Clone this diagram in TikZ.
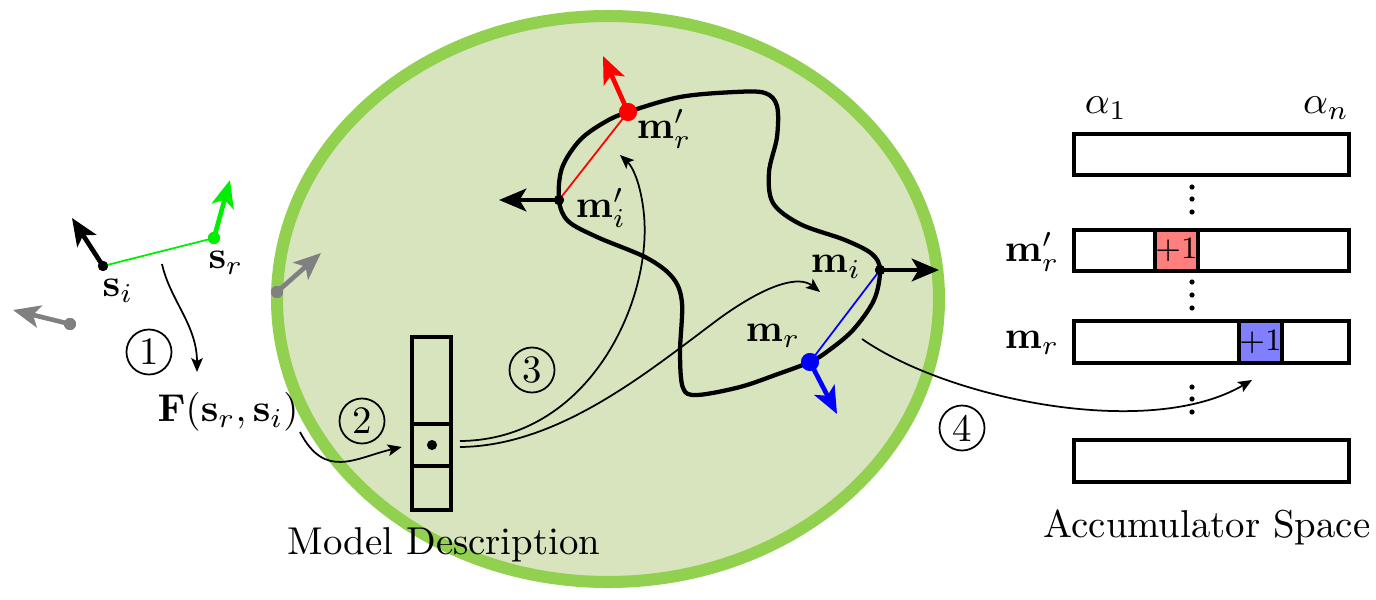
\documentclass[tikz,border=0pt]{standalone}
\usetikzlibrary{arrows.meta}
\definecolor{ellfill}{HTML}{D7E4BD}
\definecolor{ellline}{HTML}{92D050}
\definecolor{cellred}{HTML}{FF7F7F}
\definecolor{cellblue}{HTML}{7F7FFF}
\definecolor{vgreen}{HTML}{00EE00}
\definecolor{vgray}{HTML}{808080}
\begin{document}
\begin{tikzpicture}[x=0.2577pt,y=-0.2577pt,
  bigtip/.style={-{Stealth[length=7pt,width=5.8pt,inset=1.7pt]}},
  vecarrow/.style={line width=1.2pt,bigtip},
  conn/.style={line width=0.45pt,-{Stealth[length=3.6pt,width=3pt,inset=0.8pt]}},
  dotnode/.style={circle,fill,inner sep=0pt,minimum size=#1},
  numcirc/.style={circle,draw,line width=0.45pt,minimum size=11.6pt,inner sep=0pt},
  cellbox/.style={draw,line width=1.05pt,inner sep=0pt,minimum width=10.05pt},
  rowbox/.style={draw,line width=1.05pt,inner sep=0pt,minimum width=70.9pt,minimum height=10.6pt},
  chord/.style={line width=0.45pt}
]
\useasboundingbox (0,0) rectangle (1376,599);

% model space ellipse
\draw[fill=ellfill,draw=ellline,line width=3.1pt] (608,299) ellipse [x radius=331,y radius=283];

% closed contour
\draw[line width=1.1pt] plot[smooth cycle,tension=0.55] coordinates {
 (559,200) (562,168) (580,140) (605,122) (628,112) (680,97) (735,92) (765,93)
 (777,106) (777,137) (769,172) (773,203) (800,224) (845,240) (872,254) (880,270)
 (874,300) (853,330) (828,351) (810,362) (778,374) (740,387) (697,395) (683,388)
 (680,353) (682,303) (673,278) (647,258) (597,237) (568,221)};

% points
\node[dotnode=2.6pt] (si) at (103,266) {};
\node[dotnode=3.1pt,vgreen] (sr) at (214,238) {};
\node[dotnode=3.1pt,vgray] (gl) at (70,324) {};
\node[dotnode=3.1pt,vgray] (ge) at (277,292) {};
\node[dotnode=2.6pt] (mip) at (559,200) {};
\node[dotnode=4.6pt,red] (mrp) at (628,112) {};
\node[dotnode=2.6pt] (mi) at (880,270) {};
\node[dotnode=4.6pt,blue] (mr) at (810,362) {};

\coordinate (siT) at (72,218);
\coordinate (srT) at (230,180);
\coordinate (glT) at (13,310);
\coordinate (geT) at (321,253);
\coordinate (mipT) at (499,200);
\coordinate (mrpT) at (603,56);
\coordinate (miT) at (939,270);
\coordinate (mrT) at (837,414);

% chords
\draw[chord,vgreen] (si.center) -- (sr.center);
\draw[chord,red] (mip.center) -- (mrp.center);
\draw[chord,blue] (mi.center) -- (mr.center);

% vectors
\draw[vecarrow] (si.center) -- (siT);
\draw[vecarrow,vgreen] (sr.center) -- (srT);
\draw[vecarrow,vgray] (gl.center) -- (glT);
\draw[vecarrow,vgray] (ge.center) -- (geT);
\draw[vecarrow] (mip.center) -- (mipT);
\draw[vecarrow,red] (mrp.center) -- (mrpT);
\draw[vecarrow] (mi.center) -- (miT);
\draw[vecarrow,blue] (mr.center) -- (mrT);

% redraw dots on top
\node[dotnode=2.6pt] at (si) {};
\node[dotnode=3.1pt,vgreen] at (sr) {};
\node[dotnode=3.1pt,vgray] at (gl) {};
\node[dotnode=3.1pt,vgray] at (ge) {};
\node[dotnode=2.6pt] at (mip) {};
\node[dotnode=4.6pt,red] at (mrp) {};
\node[dotnode=2.6pt] at (mi) {};
\node[dotnode=4.6pt,blue] at (mr) {};

% labels
\node (Lsi) at (118,291) {$\mathbf{s}_i$};
\node (Lsr) at (226,263) {$\mathbf{s}_r$};
\node (F) at (228,412) {$\mathbf{F}(\mathbf{s}_r,\mathbf{s}_i)$};
\node (Lmrp) at (664,129) {$\mathbf{m}'_r$};
\node (Lmip) at (601,208) {$\mathbf{m}'_i$};
\node (Lmi) at (836,267) {$\mathbf{m}_i$};
\node (Lmr) at (773,336) {$\mathbf{m}_r$};

% model description
\node[cellbox,minimum height=22.42pt] (mtop) at (431.5,380.5) {};
\node[cellbox,minimum height=10.82pt] (mmid) at (431.5,445) {};
\node[cellbox,minimum height=11.34pt] (mbot) at (431.5,488) {};
\node[dotnode=2.6pt] (mdot) at (432,445) {};
\node (Lmodel) at (444,545) {Model Description};

% circled steps
\node[numcirc] (c1) at (149,352) {1};
\node[numcirc] (c2) at (362,421) {2};
\node[numcirc] (c3) at (532,370) {3};
\node[numcirc] (c4) at (962,428) {4};

% accumulator
\node[rowbox] (r1) at (1211.5,154.5) {};
\node[rowbox] (r2) at (1211.5,250.5) {};
\node[rowbox] (r3) at (1211.5,342) {};
\node[rowbox] (r4) at (1211.5,461) {};
\node[cellbox,fill=cellred,minimum width=11.08pt,minimum height=10.6pt,font=\footnotesize] (cr) at (1176.5,250.5) {$+1$};
\node[cellbox,fill=cellblue,minimum width=10.57pt,minimum height=10.6pt,font=\footnotesize] (cb) at (1260.5,342) {$+1$};
\foreach \yy in {187,199,212,282,295,308,387,399,412}
  \fill (1192,\yy) circle [radius=2.6];
\node (La1) at (1106,108) {$\alpha_1$};
\node (Lan) at (1326,108) {$\alpha_n$};
\node (Lr2) at (1032,252) {$\mathbf{m}'_r$};
\node (Lr3) at (1032,343) {$\mathbf{m}_r$};
\node (Lacc) at (1207,527) {Accumulator Space};

% connectors
\coordinate (a1s) at (162,264);
\coordinate (a1e) at (197,372);
\draw[conn] (a1s) .. controls (170,300) and (197,325) .. (a1e);
\coordinate (a2s) at (300,432);
\draw[conn,shorten >=2.2pt] (a2s) .. controls (325,480) and (355,458) .. (mmid.west);
\coordinate (a3s) at (460,441);
\coordinate (a3t) at (460,447);
\coordinate (a3e) at (620,155);
\coordinate (a3f) at (820,292);
\draw[conn] (a3s) .. controls (590,440) and (652,300) .. (644,215) .. controls (641,183) and (632,166) .. (a3e);
\draw[conn] (a3t) .. controls (560,446) and (650,370) .. (720,318) .. controls (770,282) and (800,276) .. (a3f);
\coordinate (a4s) at (862,339);
\coordinate (a4e) at (1252,380);
\draw[conn] (a4s) .. controls (950,400) and (1150,440) .. (a4e);
\end{tikzpicture}
\end{document}
